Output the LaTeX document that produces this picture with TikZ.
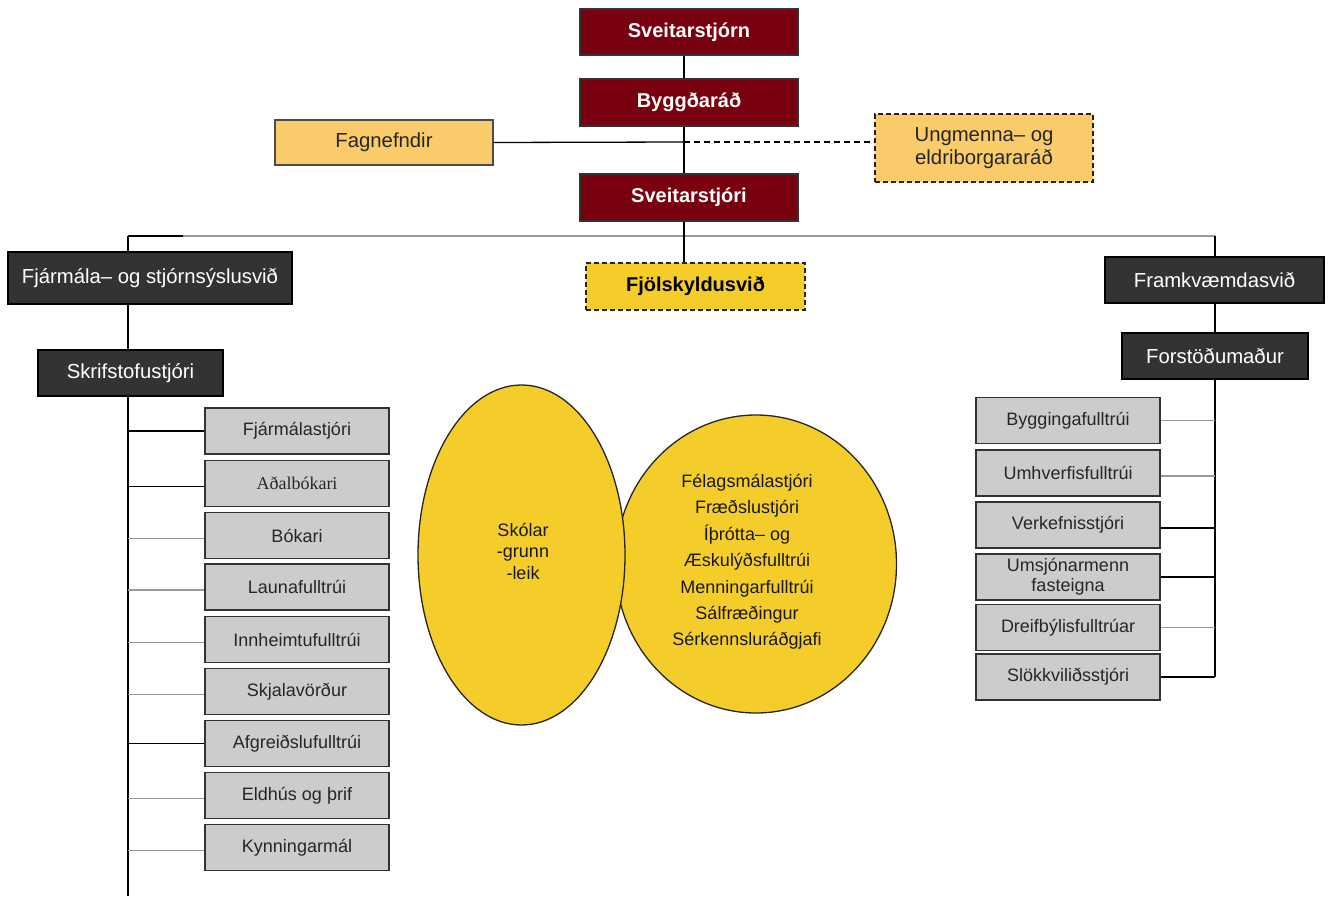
\documentclass[tikz,border=0pt]{standalone}
\usepackage{fontspec}
\setmainfont{Liberation Sans}
\newfontfamily\serifface{Liberation Serif}
\usetikzlibrary{calc,shapes.geometric}
\definecolor{redbox}{HTML}{78000F}
\definecolor{darkbox}{HTML}{333333}
\definecolor{graybox}{HTML}{CCCCCC}
\definecolor{lightorange}{HTML}{F9CB6B}
\definecolor{yel}{HTML}{F5CD2A}
\definecolor{lgray}{HTML}{9A9A9A}
\tikzset{
  redstyle/.style={draw=black!80, line width=1.2pt, fill=redbox, text=white, font=\fontsize{20}{24}\selectfont\bfseries, minimum width=218pt, minimum height=46pt, inner sep=0pt},
  darkstyle/.style={draw=black, line width=1.6pt, fill=darkbox, text=white, font=\fontsize{20.3}{24}\selectfont, minimum height=46pt, inner sep=0pt},
  graystyle/.style={draw=black!80, line width=1.6pt, fill=graybox, text=black!85, font=\fontsize{18}{21}\selectfont, minimum width=184pt, minimum height=46pt, inner sep=0pt, align=center},
  orangestyle/.style={draw=black!70, line width=1.3pt, fill=lightorange, text=black!85, font=\fontsize{20.3}{23}\selectfont, minimum width=218pt, inner sep=0pt, align=center},
  dashbox/.style={dash pattern=on 5pt off 3pt},
  conn/.style={line width=1.3pt, draw=black},
  gconn/.style={line width=1.3pt, draw=lgray},
}
\begin{document}
\begin{tikzpicture}[x=1pt,y=-1pt]
\useasboundingbox[fill=white] (0,0) rectangle (1329,896);

% top chain
\node[redstyle] (stjorn) at (689,32) {Sveitarstjórn};
\node[redstyle, minimum height=47pt] (byggd) at (689,102.5) {Byggðaráð};
\node[redstyle, minimum height=47pt] (stjori) at (689,197.5) {Sveitarstjóri};
\node[orangestyle, minimum height=45pt] (fagn) at (384,142.5) {Fagnefndir};
\node[orangestyle, dashbox, draw=black!75!brown, minimum height=68pt] (ungm) at (984,148) {Ungmenna– og\\eldriborgararáð};

\coordinate (mid) at (684,142);
\coordinate (busL) at (128,236);
\coordinate (busC) at (684,236);
\coordinate (busR) at (1215,236);
\coordinate (leftEnd) at (128,896);

\draw[conn] ([xshift=-5pt]stjorn.south) -- ([xshift=-5pt]byggd.north);
\draw[conn] ([xshift=-5pt]byggd.south) -- ([xshift=-5pt]stjori.north);
\draw[conn] (fagn.east) -- (mid);
\draw[conn, dash pattern=on 6pt off 4pt] (mid) -- (ungm.west |- mid);

% second level
\node[darkstyle, minimum width=284pt, minimum height=52pt] (fin) at (150,278) {Fjármála– og stjórnsýslusvið};
\node[darkstyle, minimum width=185pt] (skr) at (130.5,373) {Skrifstofustjóri};
\node[draw=black!85, line width=1.3pt, dashbox, fill=yel, font=\fontsize{20}{24}\selectfont\bfseries, minimum width=219pt, minimum height=47pt, inner sep=0pt] (fjol) at (695.5,286.5) {Fjölskyldusvið};
\node[darkstyle, minimum width=219pt] (fram) at (1214.5,280) {Framkvæmdasvið};
\node[darkstyle, minimum width=186pt] (fors) at (1215,356) {Forstöðumaður};

\draw[gconn] (busL) -- (busR);
\draw[conn] (busL) -- ($(busL)+(55,0)$);
\draw[conn] ([xshift=-5pt]stjori.south) -- (fjol.north -| busC);
\draw[conn] (busL) -- (fin.north -| busL);
\draw[conn] (fin.south -| busL) -- (skr.north -| busL);
\draw[conn] (skr.south -| busL) -- (leftEnd);
\draw[conn] (busR) -- (fram.north -| busR);
\draw[conn] (fram.south -| busR) -- (fors.north -| busR);

% left gray column
\node[graystyle] (l1) at (297,431) {Fjármálastjóri};
\node[graystyle] (l2) at (297,483.5) {\serifface Aðalbókari};
\node[graystyle] (l3) at (297,535.5) {Bókari};
\node[graystyle] (l4) at (297,587) {Launafulltrúi};
\node[graystyle] (l5) at (297,639.5) {Innheimtufulltrúi};
\node[graystyle] (l6) at (297,691.5) {Skjalavörður};
\node[graystyle] (l7) at (297,743.5) {Afgreiðslufulltrúi};
\node[graystyle] (l8) at (297,795.5) {Eldhús og þrif};
\node[graystyle] (l9) at (297,847.5) {Kynningarmál};

\draw[conn] (l1.west) -- (l1.west -| busL);
\draw[conn] ([yshift=-3pt]l2.west) -- ([yshift=-3pt]l2.west -| busL);
\draw[gconn] ([yshift=-3pt]l3.west) -- ([yshift=-3pt]l3.west -| busL);
\draw[gconn] ([yshift=-3pt]l4.west) -- ([yshift=-3pt]l4.west -| busL);
\draw[gconn] ([yshift=-3pt]l5.west) -- ([yshift=-3pt]l5.west -| busL);
\draw[gconn] ([yshift=-3pt]l6.west) -- ([yshift=-3pt]l6.west -| busL);
\draw[conn] (l7.west) -- (l7.west -| busL);
\draw[gconn] ([yshift=-3pt]l8.west) -- ([yshift=-3pt]l8.west -| busL);
\draw[gconn] ([yshift=-3pt]l9.west) -- ([yshift=-3pt]l9.west -| busL);

% right gray column
\node[graystyle] (r1) at (1068,420.5) {Byggingafulltrúi};
\node[graystyle] (r2) at (1068,473) {Umhverfisfulltrúi};
\node[graystyle] (r3) at (1068,525) {Verkefnisstjóri};
\node[graystyle, font=\fontsize{18}{20}\selectfont] (r4) at (1068,577) {Umsjónarmenn\\fasteigna};
\node[graystyle] (r5) at (1068,627.5) {Dreifbýlisfulltrúar};
\node[graystyle] (r6) at (1068,677) {Slökkviliðsstjóri};

\draw[conn] (fors.south -| busR) -- (r6.east -| busR);
\draw[gconn] (r1.east) -- (r1.east -| busR);
\draw[gconn] ([yshift=-3pt]r2.east) -- ([yshift=-3pt]r2.east -| busR);
\draw[conn] ([yshift=-3pt]r3.east) -- ([yshift=-3pt]r3.east -| busR);
\draw[conn] (r4.east) -- (r4.east -| busR);
\draw[gconn] (r5.east) -- (r5.east -| busR);
\draw[conn] (r6.east) -- (r6.east -| busR);

% ellipses
\node[draw=black!85, line width=1.3pt, fill=yel, ellipse, minimum width=281pt, minimum height=298pt, inner sep=0pt] (circ) at (756,564) {};
\node[draw=black!85, line width=1.3pt, fill=yel, ellipse, minimum width=207pt, minimum height=340pt, inner sep=0pt] (ell) at (521.5,555) {};
\node[font=\fontsize{18}{21.5}\selectfont, align=center, text=black!90] (skol) at (523,551) {Skólar\\-grunn\\-leik};
\node[font=\fontsize{18}{26.4}\selectfont, align=center, text=black!90] (circtext) at (747,562) {Félagsmálastjóri\\Fræðslustjóri\\Íþrótta– og\\Æskulýðsfulltrúi\\Menningarfulltrúi\\Sálfræðingur\\Sérkennsluráðgjafi};
\end{tikzpicture}
\end{document}
